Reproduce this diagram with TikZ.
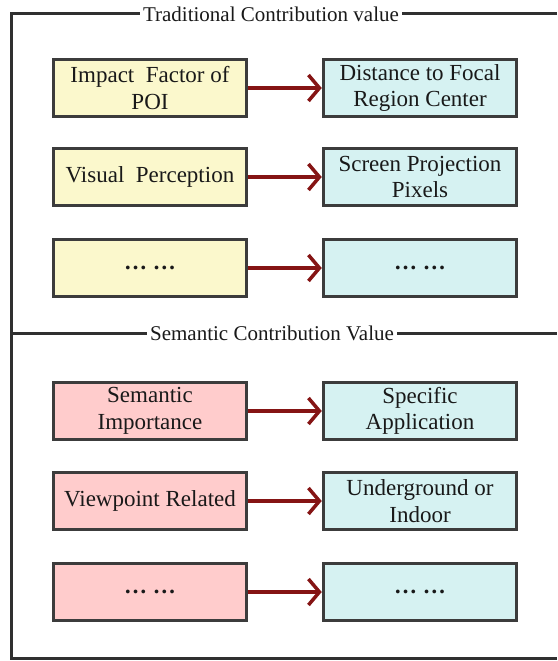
\documentclass[tikz,border=0pt]{standalone}
\usepackage{fontspec}
\setmainfont{Liberation Serif}
\usetikzlibrary{arrows.meta}
\definecolor{cyel}{HTML}{FBF8CC}
\definecolor{ccyan}{HTML}{D6F2F2}
\definecolor{cpink}{HTML}{FFCCCC}
\definecolor{cbord}{HTML}{3C3C3C}
\definecolor{carrow}{HTML}{851414}
\definecolor{cframe}{HTML}{303030}
\tikzset{
  box/.style={draw=cbord, line width=3.5pt, minimum width=193pt, minimum height=57pt,
    align=center, inner sep=2pt, font=\fontsize{23}{26.5}\selectfont, text=black!90},
  ybox/.style={box, fill=cyel},
  cbox/.style={box, fill=ccyan},
  pbox/.style={box, fill=cpink},
  conn/.style={draw=carrow, line width=3.5pt, -{Straight Barb[length=11pt,width=26pt,line width=3.5pt]}},
  frameline/.style={draw=cframe, line width=3pt},
  ttl/.style={fill=white, inner sep=3pt, font=\fontsize{21}{24}\selectfont, text=black!90}
}
\begin{document}
\begin{tikzpicture}[x=1pt,y=-1pt]
\useasboundingbox (0,0) rectangle (557,661);
\coordinate (tl) at (11,14);
\coordinate (tr) at (557,14);
\coordinate (ml) at (11,333);
\coordinate (mr) at (557,333);
\coordinate (bl) at (11,658);
\coordinate (br) at (557,658);
\draw[frameline] (tr) -- (tl) -- (bl) -- (br);
\draw[frameline] (ml) -- (mr);
\node[ttl] (t1) at (271,14) {Traditional Contribution value};
\node[ttl] (t2) at (272,333) {Semantic Contribution Value};

\node[ybox] (a1) at (150,88) {Impact\ \ Factor of\\POI};
\node[cbox] (b1) at (420,88) {Distance to Focal\\Region Center};
\node[ybox] (a2) at (150,177) {Visual\ \ Perception};
\node[cbox] (b2) at (420,177) {Screen Projection\\Pixels};
\node[ybox] (a3) at (150,268) {\textbf{…\ …}};
\node[cbox] (b3) at (420,268) {\textbf{…\ …}};

\node[pbox] (a4) at (150,411) {Semantic\\Importance};
\node[cbox] (b4) at (420,411) {Specific\\Application};
\node[pbox] (a5) at (150,501) {Viewpoint Related};
\node[cbox] (b5) at (420,501) {Underground or\\Indoor};
\node[pbox] (a6) at (150,592) {\textbf{…\ …}};
\node[cbox] (b6) at (420,592) {\textbf{…\ …}};

\foreach \i in {1,...,6} {\draw[conn] (a\i) -- (b\i);}
\end{tikzpicture}
\end{document}
